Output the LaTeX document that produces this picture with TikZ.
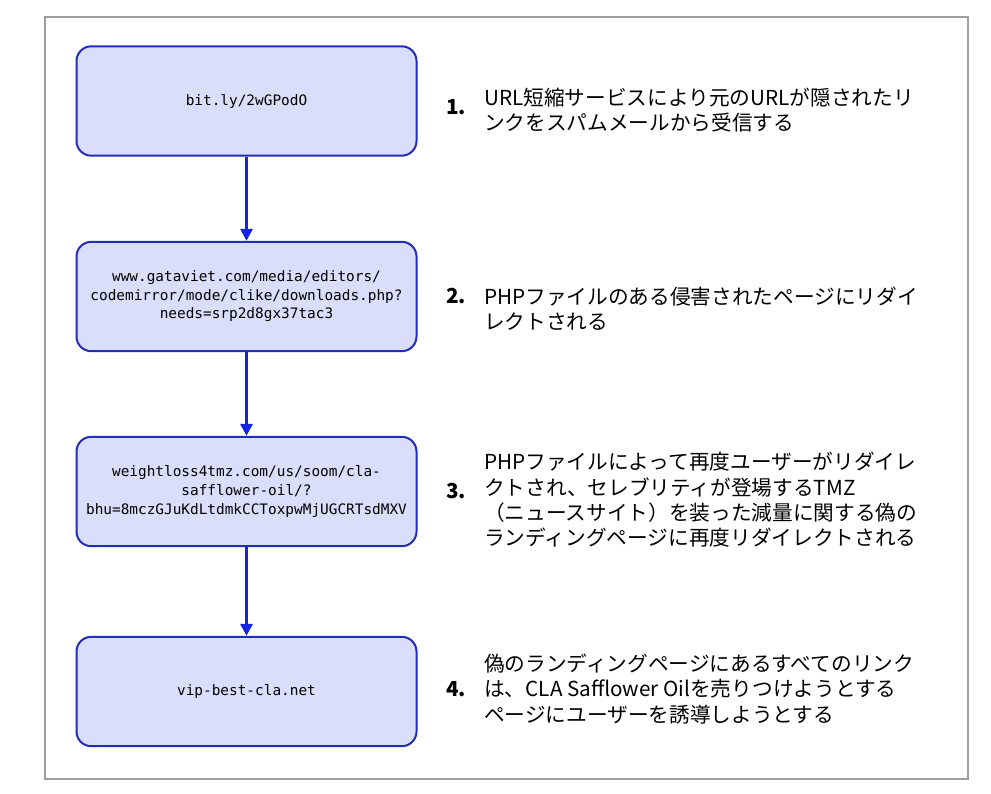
\documentclass[tikz,border=0pt]{standalone}
\usepackage{fontspec}
\setmainfont{Noto Sans CJK JP}
\setmonofont{DejaVu Sans Mono}
\usepackage{xcolor}
\usetikzlibrary{positioning, arrows.meta}
\definecolor{boxfill}{RGB}{218,222,250}
\definecolor{boxline}{RGB}{35,45,185}
\definecolor{flowblue}{RGB}{20,35,230}

\begin{document}
\begin{tikzpicture}[x=0.75pt, y=-0.75pt,
    urlbox/.style={draw=boxline, fill=boxfill, line width=1.5pt, rounded corners=11pt,
        minimum width=255pt, minimum height=82pt, align=center,
        font=\ttfamily\fontsize{10.8}{13.9}\selectfont},
    stepnum/.style={font=\bfseries\fontsize{15.5}{18}\selectfont},
    desc/.style={anchor=west, align=left, inner sep=0pt, font=\fontsize{15.5}{19}\selectfont},
    flow/.style={draw=flowblue, line width=2.4pt, -{Triangle[length=9pt,width=9pt]}}]
    \useasboundingbox (0,0) rectangle (991,793);
    \draw[gray!75, line width=1.2pt] (45,17) rectangle (968,779);
    \node[urlbox] (url1) at (246.5,101) {bit.ly/2wGPodO};
    \node[urlbox] (url2) at (246.5,296.5) {www.gataviet.com/media/editors/\\codemirror/mode/clike/downloads.php?\\needs=srp2d8gx37tac3};
    \node[urlbox] (url3) at (246.5,491.5) {weightloss4tmz.com/us/soom/cla-\\safflower-oil/?\\bhu=8mczGJuKdLtdmkCCToxpwMjUGCRTsdMXV};
    \node[urlbox] (url4) at (246.5,691.5) {vip-best-cla.net};
    \draw[flow] (url1) -- (url2);
    \draw[flow] (url2) -- (url3);
    \draw[flow] (url3) -- (url4);
    \node[stepnum] (num1) at (456,107) {1.};
    \node[stepnum] (num2) at (456,296) {2.};
    \node[stepnum] (num3) at (456,491) {3.};
    \node[stepnum] (num4) at (456,689) {4.};
    \node[desc] (desc1) at (484,110) {URL短縮サービスにより元のURLが隠されたリ\\ンクをスパムメールから受信する};
    \node[desc] (desc2) at (484,309) {PHPファイルのある侵害されたページにリダイ\\レクトされる};
    \node[desc] (desc3) at (484,500) {PHPファイルによって再度ユーザーがリダイレ\\クトされ、セレブリティが登場するTMZ\\（ニュースサイト）を装った減量に関する偽の\\ランディングページに再度リダイレクトされる};
    \node[desc] (desc4) at (484,689) {偽のランディングページにあるすべてのリンク\\は、CLA Safflower Oilを売りつけようとする\\ページにユーザーを誘導しようとする};
\end{tikzpicture}
\end{document}
